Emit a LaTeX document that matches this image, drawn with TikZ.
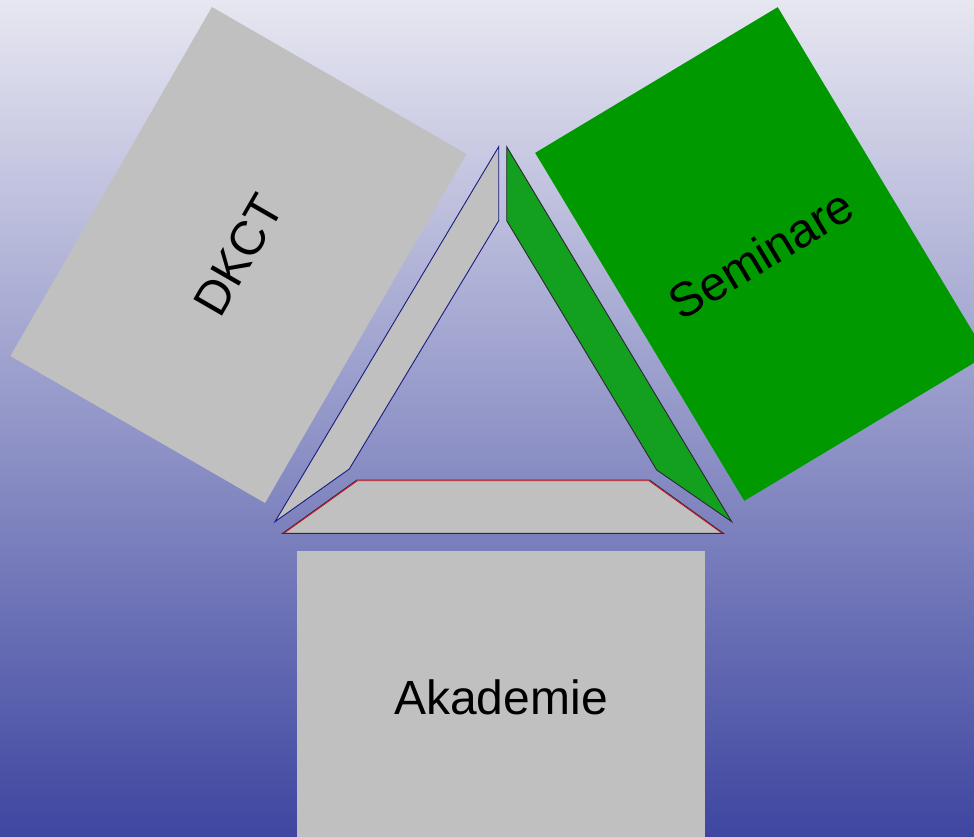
\documentclass[tikz,border=0pt]{standalone}
\usepackage{fontspec}
\setmainfont{Liberation Sans}
\definecolor{bgtop}{RGB}{231,231,241}
\definecolor{bgmid}{RGB}{160,162,200}
\definecolor{bgbot}{RGB}{62,70,160}
\definecolor{boxgrey}{RGB}{192,192,192}
\definecolor{boxgreen}{RGB}{0,153,0}
\definecolor{bargreen}{RGB}{18,160,30}
\definecolor{navyline}{RGB}{26,26,128}
\definecolor{darkline}{RGB}{45,40,50}
\definecolor{redline}{RGB}{210,20,40}
\tikzset{
  panel/.style={rectangle, inner sep=0pt, font=\fontsize{48}{58}\selectfont, text=black},
  barline/.style={line width=0.9pt, line join=miter}
}
\begin{document}
\begin{tikzpicture}[x=1pt,y=1pt]
\clip (0,0) rectangle (974,836);
\useasboundingbox (0,0) rectangle (974,836);
\shade[top color=bgtop, middle color=bgmid, bottom color=bgbot] (0,0) rectangle (974,836);
% panels
\node[panel, fill=boxgrey, minimum width=403pt, minimum height=294pt, rotate=60] (dkct) at (238.5,581) {DKCT};
\node[panel, fill=boxgreen, minimum width=283pt, minimum height=406pt, rotate=31] (sem) at (761,582) {Seminare};
\node[panel, fill=boxgrey, minimum width=408pt, minimum height=292pt] (akad) at (501,139) {Akademie};
% triangle bars
\filldraw[barline, fill=boxgrey, draw=navyline] (498.7,689.3) -- (498.7,615.3) -- (349.3,367) -- (275,314.3) -- cycle;
\filldraw[barline, fill=bargreen, draw=darkline] (506.7,689.3) -- (506.7,615.3) -- (656.7,366) -- (731.7,314.3) -- cycle;
\filldraw[barline, fill=boxgrey, draw=darkline] (357,356) -- (649.3,356) -- (723.3,302.7) -- (282.7,302.7) -- cycle;
\draw[line width=0.8pt, redline] (283.9,302.7) -- (357.3,355.2) -- (649,355.2) -- (722.1,302.7);
\end{tikzpicture}
\end{document}
